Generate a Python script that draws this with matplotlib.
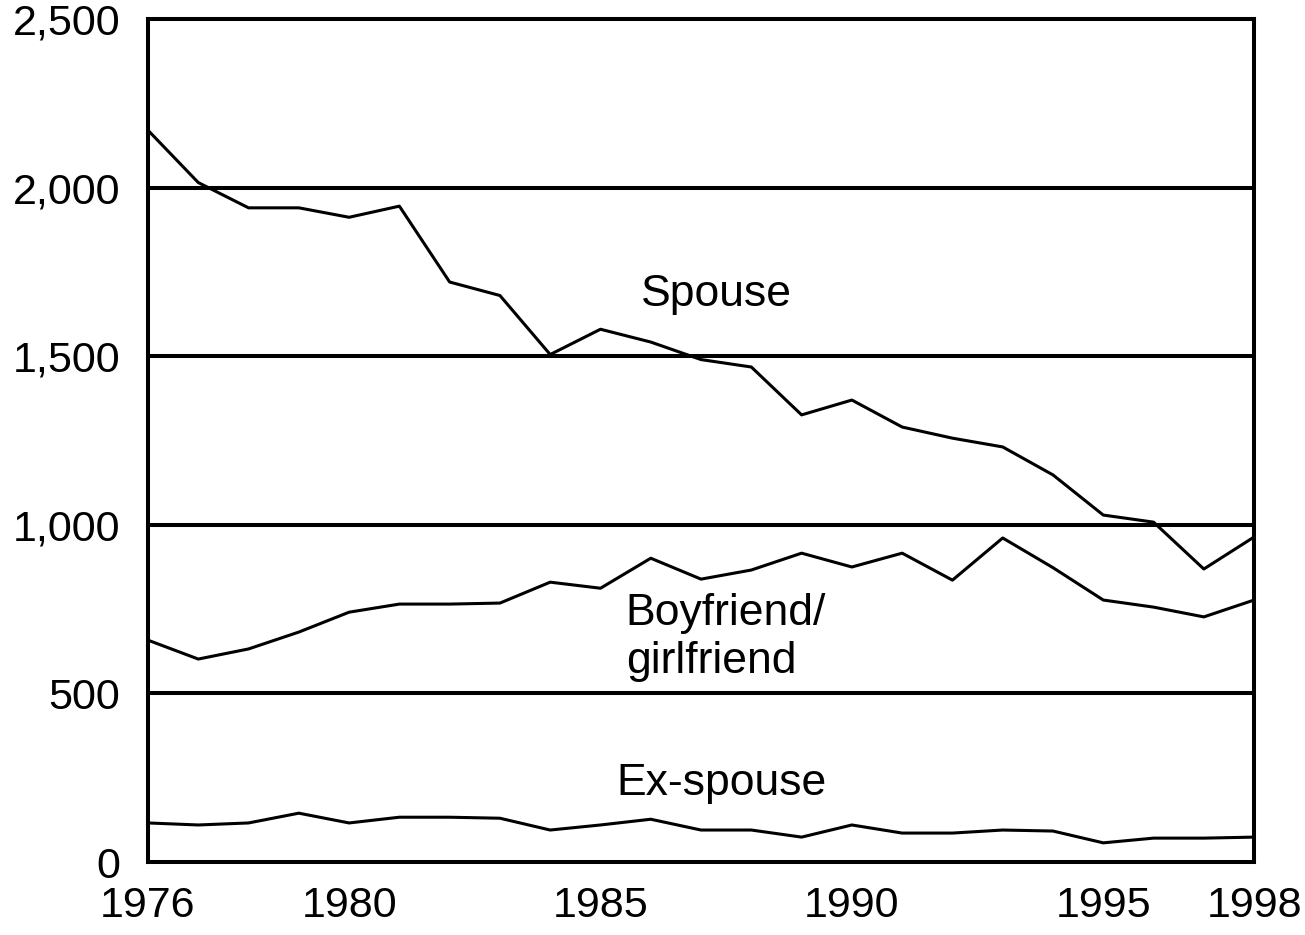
import numpy as np
import matplotlib
matplotlib.use('Agg')
import matplotlib.pyplot as plt

# Years shown on the x axis
years = np.arange(1976, 1999)

# Values
spouse = [2170, 2015, 1940, 1940, 1912, 1945, 1720, 1680, 1505, 1580,
          1542, 1490, 1468, 1326, 1370, 1290, 1257, 1231, 1148, 1029,
          1008, 869, 964]
boyfriend_girlfriend = [658, 602, 632, 682, 741, 765, 765, 768, 830, 812,
                        901, 839, 866, 916, 875, 916, 836, 961, 873, 777,
                        756, 727, 777]
ex_spouse = [116, 110, 116, 145, 116, 133, 133, 130, 95, 110,
             127, 95, 95, 74, 110, 86, 86, 95, 92, 57,
             71, 71, 74]

xticks = [1976, 1980, 1985, 1990, 1995, 1998]
yticks = [0, 500, 1000, 1500, 2000, 2500]
ytick_labels = ['0', '500', '1,000', '1,500', '2,000', '2,500']

fonte = ['Liberation Sans Narrow', 'Liberation Sans', 'DejaVu Sans']
plt.rcParams['font.family'] = fonte

fig = plt.figure(figsize=(13.05, 9.35), dpi=100)
ax = fig.add_axes([0.1134, 0.078, 0.8476, 0.9017])

# Linhas de grade horizontais
for v in yticks[1:-1]:
    ax.axhline(v, color='black', lw=2.9, zorder=1)

ax.plot(years, spouse, color='black', lw=2.2, zorder=3)
ax.plot(years, boyfriend_girlfriend, color='black', lw=2.2, zorder=3)
ax.plot(years, ex_spouse, color='black', lw=2.2, zorder=3)

ax.set_xlim(1976, 1998)
ax.set_ylim(0, 2500)
ax.set_xticks(xticks)
ax.set_xticklabels([str(t) for t in xticks])
ax.set_yticks(yticks)
ax.set_yticklabels(ytick_labels)
ax.tick_params(axis='both', length=0, labelsize=31)
ax.tick_params(axis='x', pad=17)
ax.tick_params(axis='y', pad=20)

for s in ax.spines.values():
    s.set_linewidth(2.9)
    s.set_color('black')

# Rótulos das séries
ax.text(1987.3, 1650, 'Spouse', fontsize=32, ha='center', va='baseline')
ax.text(1985.5, 703, 'Boyfriend/', fontsize=32, ha='left', va='baseline')
ax.text(1985.5, 560, 'girlfriend', fontsize=32, ha='left', va='baseline')
ax.text(1987.4, 200, 'Ex-spouse', fontsize=32, ha='center', va='baseline')

fig.savefig('out.png', dpi=100)
